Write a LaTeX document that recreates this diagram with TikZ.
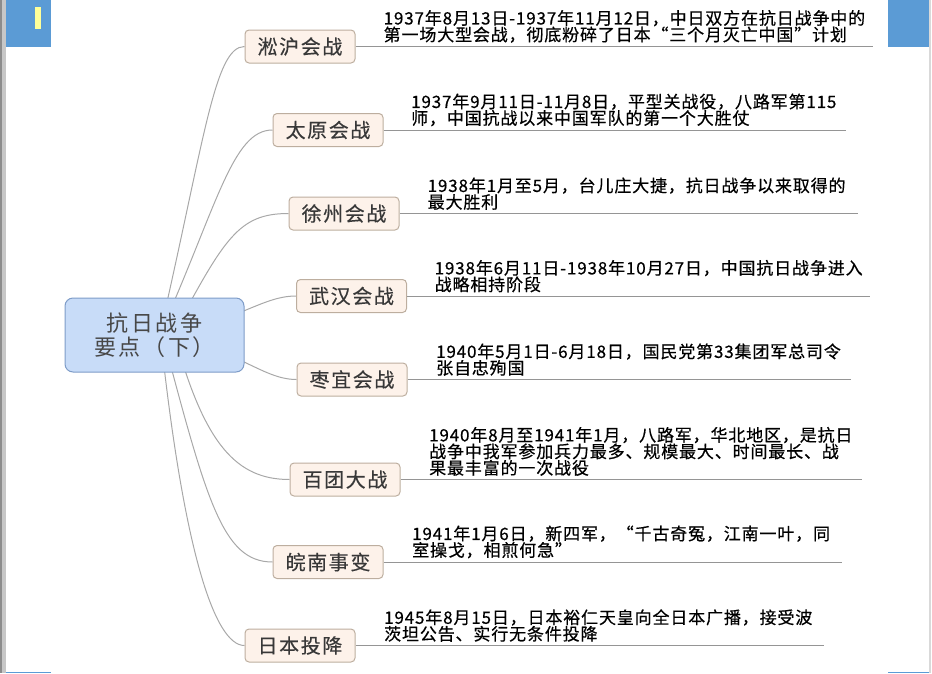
\documentclass[tikz,border=0pt]{standalone}
\usepackage{fontspec}
\usetikzlibrary{backgrounds}
\newfontfamily\rootfont[LetterSpace=12]{Noto Sans CJK SC}
\newfontfamily\topicfont[LetterSpace=8,FakeBold=0.3]{Noto Sans CJK SC}
\newfontfamily\notefont[LetterSpace=5,FakeBold=0.5]{Noto Sans CJK SC}
\definecolor{rootfill}{HTML}{C8DCF8}
\definecolor{rootline}{HTML}{7E9CC8}
\definecolor{topicfill}{HTML}{FDF2EA}
\definecolor{topicline}{HTML}{BDAE9F}
\definecolor{branchgray}{HTML}{A8A8A8}
\definecolor{linegray}{HTML}{959595}
\definecolor{cornerblue}{HTML}{5B9BD5}
\definecolor{baryellow}{HTML}{FFFF99}

\begin{document}
\begin{tikzpicture}[x=1pt,y=-1pt,
   root/.style={draw=rootline,fill=rootfill,rounded corners=8pt,line width=1pt,
     minimum width=179pt,minimum height=74pt,inner sep=0pt,align=center,
     text=black!72,font=\rootfont\fontsize{22}{24}\selectfont},
   topic/.style={draw=topicline,fill=topicfill,rounded corners=4pt,line width=1pt,
     minimum width=110pt,minimum height=33pt,inner sep=0pt,
     text=black!78,font=\topicfont\fontsize{20}{22}\selectfont},
   note/.style={anchor=south west,inner sep=0pt,align=left,
     font=\notefont\fontsize{17}{16.5}\selectfont},
   branch/.style={draw=branchgray,line width=1pt},
   uline/.style={draw=linegray,line width=1pt}]
\useasboundingbox (0,0) rectangle (932,673);
% page frame
\fill[black!22] (0,0) rectangle (6,673);
\fill[black!45] (0,0) rectangle (1.5,673);
\fill[black!15] (928.5,0) rectangle (930.5,673);
\fill[cornerblue] (6,0) rectangle (51,47);
\fill[baryellow] (35,7) rectangle (41,29);
\fill[cornerblue] (888,0) rectangle (928.5,47);
\fill[cornerblue] (6,671.5) rectangle (51,673);
\fill[cornerblue] (888,671.5) rectangle (928.5,673);

\node[root] (root) at (154.5,335) {抗日战争\\要点（下）};

\foreach \i/\x/\y/\xe/\xl/\name/\note in {
  1/300/46.5/873/383.5/淞沪会战/{1937年8月13日-1937年11月12日，中日双方在抗日战争中的\\第一场大型会战，彻底粉碎了日本“三个月灭亡中国”计划},
  2/328/130/846/411/太原会战/{1937年9月11日-11月8日，平型关战役，八路军第115\\师，中国抗战以来中国军队的第一个大胜仗},
  3/344/213.5/858/427.5/徐州会战/{1938年1月至5月，台儿庄大捷，抗日战争以来取得的\\最大胜利},
  4/351.5/296/870/434.5/武汉会战/{1938年6月11日-1938年10月27日，中国抗日战争进入\\战略相持阶段},
  5/352/379.5/851/436/枣宜会战/{1940年5月1日-6月18日，国民党第33集团军总司令\\张自忠殉国},
  6/345/479.5/861.5/429/百团大战/{1940年8月至1941年1月，八路军，华北地区，是抗日\\战争中我军参加兵力最多、规模最大、时间最长、战\\果最丰富的一次战役},
  7/328/562/842/412/皖南事变/{1941年1月6日，新四军，“千古奇冤，江南一叶，同\\室操戈，相煎何急”},
  8/300/645.5/824/384/日本投降/{1945年8月15日，日本裕仁天皇向全日本广播，接受波\\茨坦公告、实行无条件投降}}
{
  \node[topic] (t\i) at (\x,\y) {\name};
  \coordinate (e\i) at (\xe,\y);
  \draw[uline] (t\i) -- (e\i);
  \node[note] (d\i) at (\xl,\y-3.5) {\note};
}

% curved branches, under the root
\begin{scope}[on background layer]
\foreach \i/\s/\a/\b/\c in {1/5/45/-195/-30, 2/5/58/-130/-40, 3/18/52/-97/-50,
   4/0/80/-10/-36, 5/0/80/10/-36, 6/20/30/111/-52, 7/8/44/165/-50, 8/6/23/215/-30}
  \draw[branch] ([xshift=\s pt]root.center) .. controls +(\a,\b) and +(\c,0) .. (t\i.west);
\end{scope}
\end{tikzpicture}
\end{document}
